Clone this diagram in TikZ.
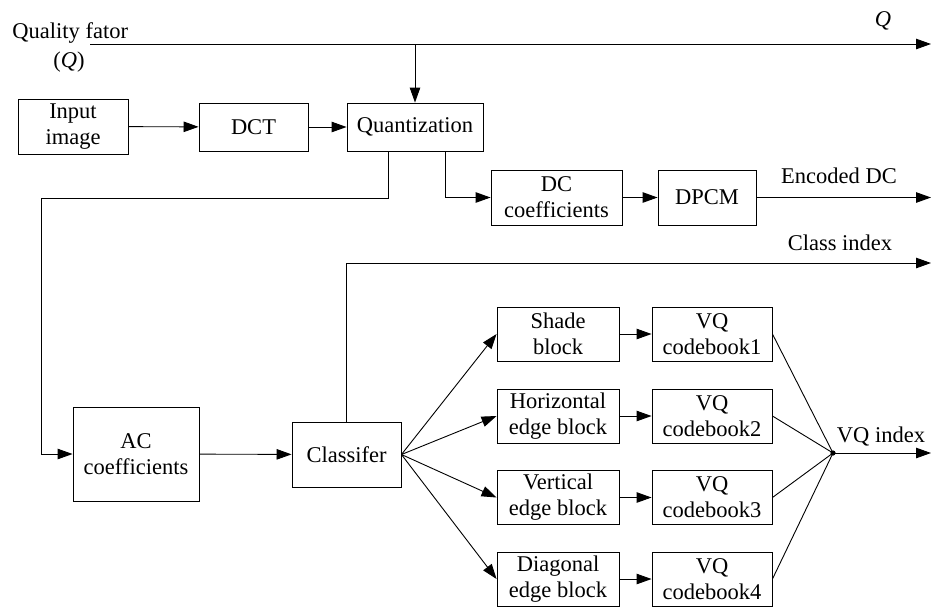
\documentclass[tikz,border=0pt]{standalone}
\usepackage{fontspec}
\setmainfont{Liberation Serif}
\usetikzlibrary{arrows.meta}
\begin{document}
\begin{tikzpicture}[x=1pt,y=-1pt,
  line width=0.9pt,
  font=\fontsize{22.5}{26}\selectfont,
  box/.style={draw,rectangle,inner sep=0pt,align=center},
  arr/.style={-{Triangle[length=15pt,width=10.5pt]}},
  lbl/.style={inner sep=0pt,anchor=base}]
\useasboundingbox (0,0) rectangle (931,606);

% top row
\node[box,minimum width=110pt,minimum height=55pt] (img) at (73,126.5) {Input\\image};
\node[box,minimum width=109pt,minimum height=48pt] (dct) at (253.5,127) {DCT};
\node[box,minimum width=136pt,minimum height=48pt] (quant) at (415,127) {Quantization};
\node[box,minimum width=131pt,minimum height=55pt] (dc) at (556.5,197.5) {DC\\coefficients};
\node[box,minimum width=98pt,minimum height=55pt] (dpcm) at (707,197.5) {DPCM};

% AC branch
\node[box,minimum width=126pt,minimum height=94pt] (ac) at (136,454) {AC\\coefficients};
\node[box,minimum width=109pt,minimum height=65pt] (cls) at (346.5,454.5) {Classifer};

% block classes and codebooks
\node[box,minimum width=122pt,minimum height=54pt] (shade) at (558,334) {Shade\\block};
\node[box,minimum width=122pt,minimum height=54pt] (horz) at (558,416) {Horizontal\\edge block};
\node[box,minimum width=122pt,minimum height=54pt] (vert) at (558,497.5) {Vertical\\edge block};
\node[box,minimum width=122pt,minimum height=54pt] (diag) at (558,579) {Diagonal\\edge block};
\node[box,minimum width=120pt,minimum height=54pt] (cb1) at (712,334) {VQ\\codebook1};
\node[box,minimum width=120pt,minimum height=54pt] (cb2) at (712,416) {VQ\\codebook2};
\node[box,minimum width=120pt,minimum height=54pt] (cb3) at (712,497.5) {VQ\\codebook3};
\node[box,minimum width=120pt,minimum height=54pt] (cb4) at (712,579) {VQ\\codebook4};

% junction and outputs
\fill (833,453) circle (2.6pt) coordinate (j);
\coordinate (qstart) at (90,44);
\coordinate (qend) at (931,44);
\coordinate (qdrop) at (415,44);
\coordinate (dcend) at (931,197.5);
\coordinate (cidx) at (931,263);
\coordinate (vqend) at (931,453);
\coordinate (acturn) at (41,198);

% labels
\node[lbl,anchor=base west] (qlabel) at (12,38) {Quality fator};
\node[lbl] (qparen) at (69,67) {(\textit{Q})};
\node[lbl] (qout) at (883,26) {\textit{Q}};
\node[lbl] (enc) at (839,183) {Encoded DC};
\node[lbl] (cilabel) at (840,250) {Class index};
\node[lbl] (vqlabel) at (881,442) {VQ index};

% connectors
\draw[arr] (qstart) -- (qend);
\draw[arr] (qdrop) -- (quant.north);
\draw[arr] (img) -- (dct);
\draw[arr] (dct) -- (quant);
\draw[arr] ([xshift=30pt]quant.south) |- (dc.west);
\draw[arr] (dc) -- (dpcm);
\draw[arr] (dpcm) -- (dcend);
\draw[arr] ([xshift=-27pt]quant.south) |- (acturn) |- (ac.west);
\draw[arr] (ac) -- (cls);
\draw[arr] (cls.north) |- (cidx);
\foreach \b in {shade,horz,vert,diag} \draw[arr] (cls.east) -- (\b.west);
\draw[arr] (shade) -- (cb1);
\draw[arr] (horz) -- (cb2);
\draw[arr] (vert) -- (cb3);
\draw[arr] (diag) -- (cb4);
\foreach \c in {cb1,cb2,cb3,cb4} \draw (\c.east) -- (j);
\draw[arr] (j) -- (vqend);
\end{tikzpicture}
\end{document}
